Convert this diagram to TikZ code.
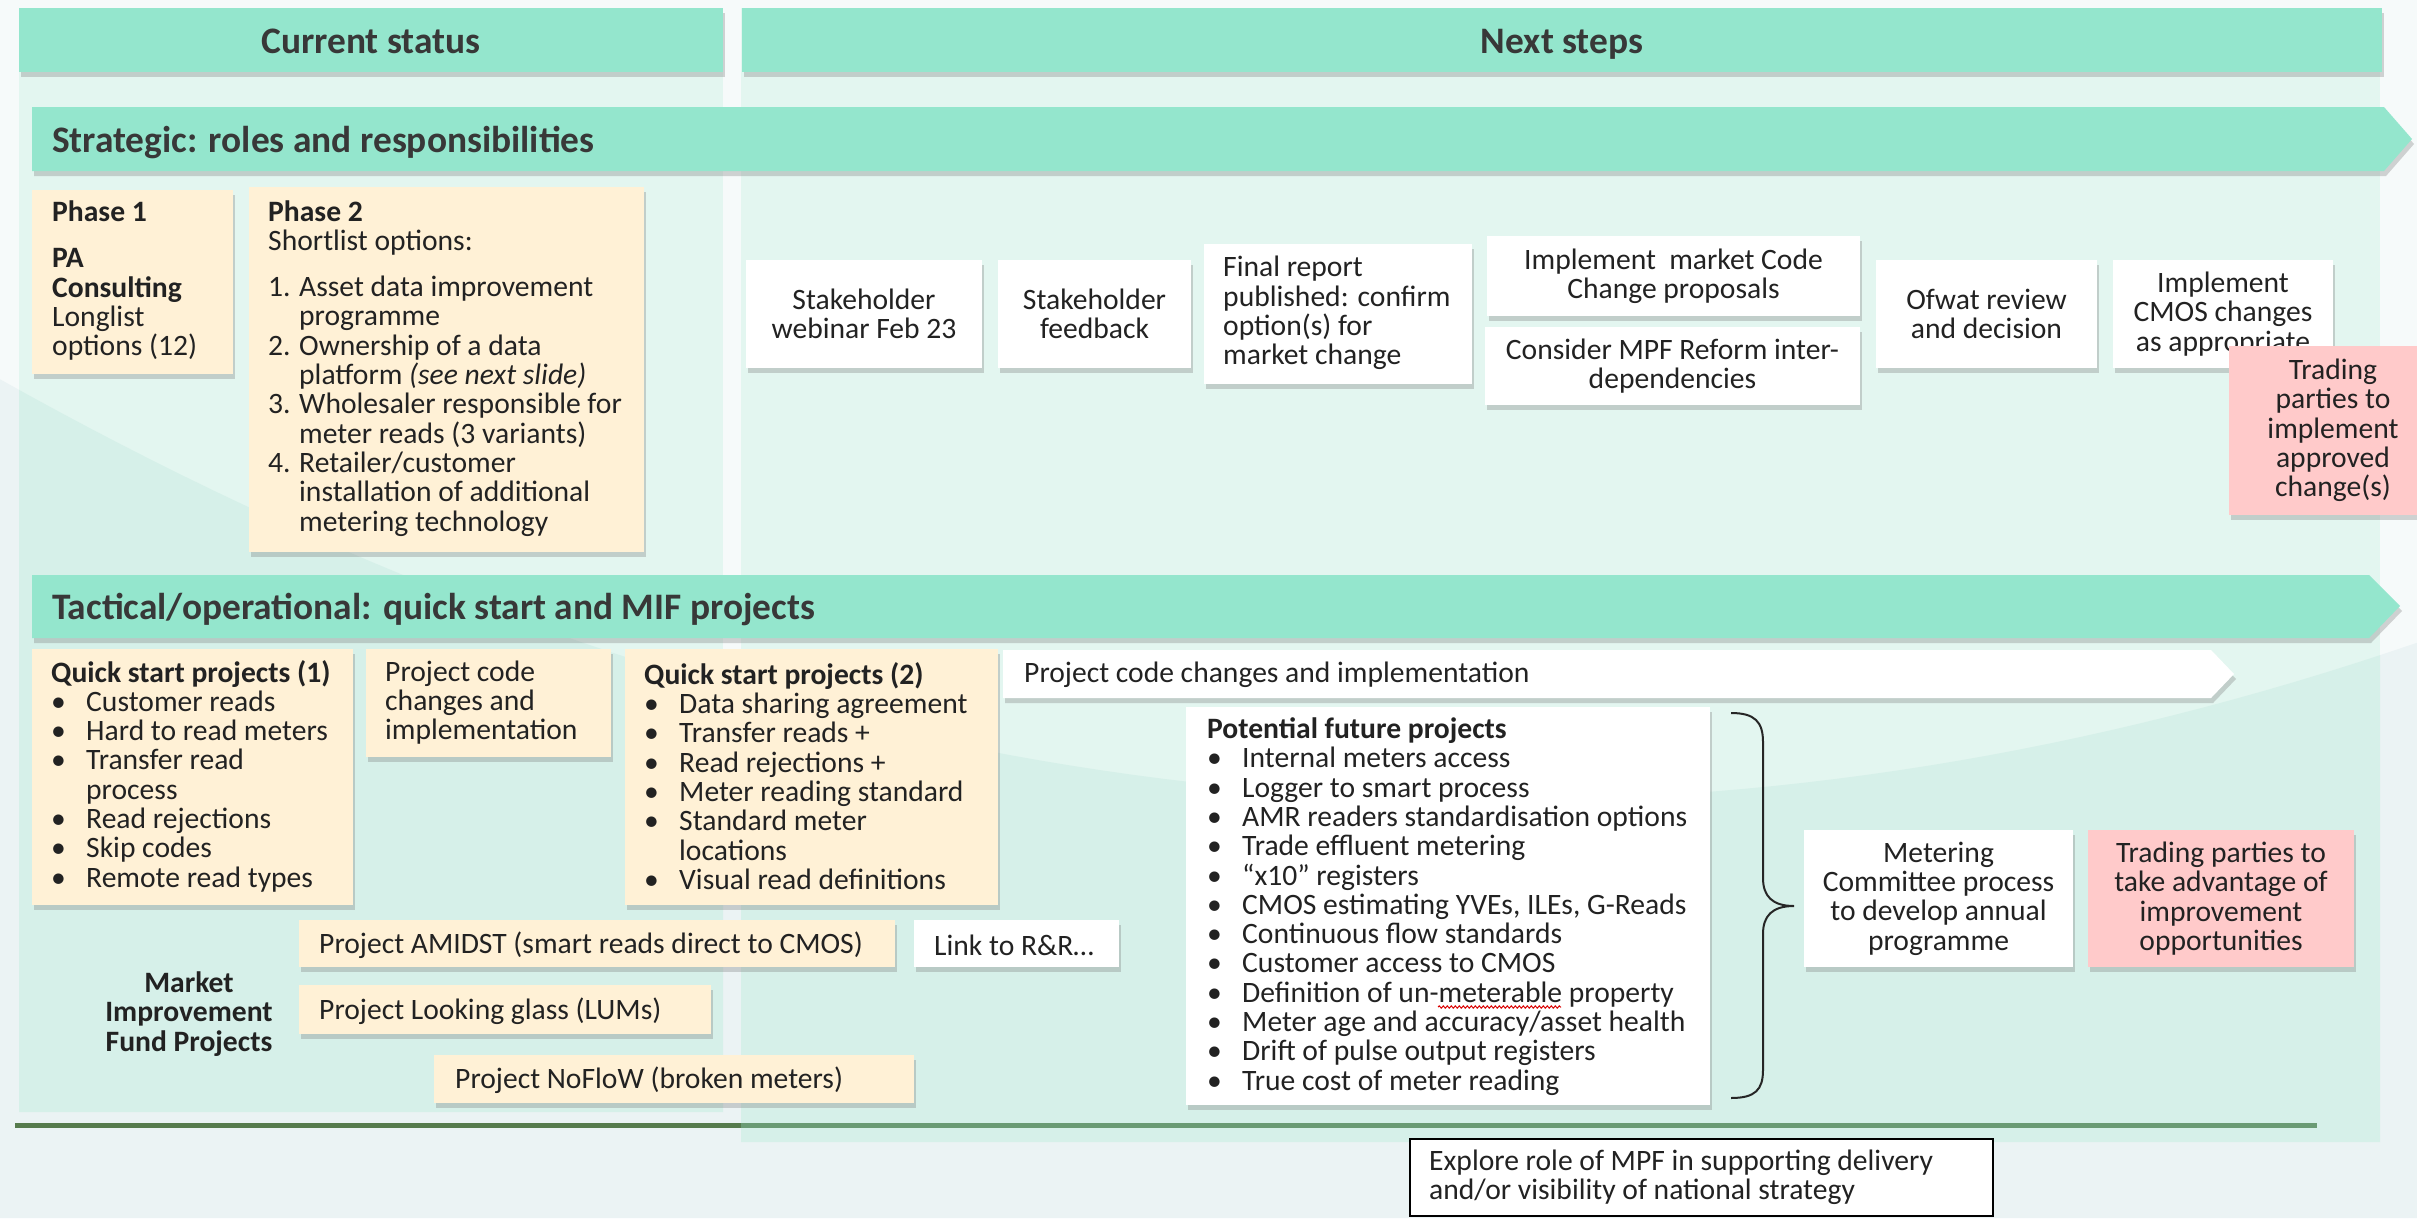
\documentclass[tikz,border=0pt]{standalone}
\usepackage{fontspec}
\setmainfont{Carlito}
\usetikzlibrary{shadows,decorations.pathmorphing}
\definecolor{mint}{HTML}{94E6CD}
\definecolor{cream}{HTML}{FFF1D6}
\definecolor{pinkb}{HTML}{FFCACA}
\definecolor{panelhi}{HTML}{E3F6F0}
\definecolor{panello}{HTML}{D6F0E9}
\definecolor{pagehi}{HTML}{F6FAFA}
\definecolor{pagelo}{HTML}{EBF3F4}
\definecolor{linegreen}{HTML}{567B4D}
\definecolor{linegreenb}{HTML}{6A9B74}
\definecolor{txt}{HTML}{222222}
\definecolor{hdr}{HTML}{383838}
\newcommand{\bodyfont}{\fontsize{29.6}{29.3}\selectfont}
\newcommand{\hdrfont}{\fontsize{37.4}{40}\selectfont\bfseries}
\newcommand{\mybul}{\makebox[35pt][l]{\textbullet}}
\newcommand{\myind}{\hspace*{35pt}}
\newcommand{\mynum}[1]{\makebox[31pt][l]{#1}}
\newcommand{\myindn}{\hspace*{31pt}}
\begin{document}
\begin{tikzpicture}[x=1pt,y=-1pt,
  shad/.style={drop shadow={shadow xshift=2pt,shadow yshift=-5pt,opacity=0.3,fill=black!55}},
  boxbase/.style={rectangle,inner sep=0pt,shad},
  creambox/.style={boxbase,fill=cream},
  whitebox/.style={boxbase,fill=white},
  pinkbox/.style={boxbase,fill=pinkb},
  body/.style={font=\bodyfont,text=txt},
  ctext/.style={body,align=center},
  ltext/.style={body,align=left,inner sep=0pt,anchor=west,yshift=-1.5pt},
  hdr/.style={font=\hdrfont,text=hdr,inner sep=0pt},
  hdrbar/.style={hdr,fill=mint,shad,text height=26.8pt,text depth=0pt},
]
\useasboundingbox (0,0) rectangle (2417,1218);
\clip (0,0) rectangle (2417,1218);
% page background
\fill[pagehi] (0,0) rectangle (2417,1218);
\fill[pagelo] plot[domain=0:2417,samples=80] (\x,{800-187*((\x-1500)/1000)*((\x-1500)/1000)}) -- (2417,1218) -- (0,1218) -- cycle;
% panels
\fill[panelhi] (19,8) rectangle (723,1112);
\fill[panelhi] (741,8) rectangle (2380,1142);
\begin{scope}
  \clip (19,8) rectangle (723,1112) (741,8) rectangle (2380,1142);
  \fill[panello] plot[domain=0:2417,samples=80] (\x,{800-187*((\x-1500)/1000)*((\x-1500)/1000)}) -- (2417,1218) -- (0,1218) -- cycle;
\end{scope}
% separator line
\draw[linegreen,line width=5pt] (15,1125) -- (741,1125);
\draw[linegreenb,line width=5pt] (741,1125) -- (2317,1125);

% column headers
\node[hdrbar,minimum width=704pt,minimum height=64pt] (cur) at (371,40) {Current status};
\node[hdrbar,minimum width=1640pt,minimum height=64pt] (nxt) at (1562,40) {Next steps};

% strategic banner
\fill[mint,shad] (32,107) -- (2384,107) -- (2412,139) -- (2384,171) -- (32,171) -- cycle;
\node[hdr,anchor=west] (strat) at (52,143) {Strategic: roles and responsibilities};

% phase boxes
\node[creambox,minimum width=201pt,minimum height=184pt] (ph1) at (132.5,282) {};
\node[ltext] (ph1t) at (52,279) {\textbf{Phase 1}\\[17.5pt]\textbf{PA}\\\textbf{Consulting}\\Longlist\\options (12)};
\node[creambox,minimum width=395pt,minimum height=365pt] (ph2) at (446.5,369.5) {};
\node[ltext] (ph2t) at (268,367) {\textbf{Phase 2}\\
Shortlist options:\\[16.5pt]
\mynum{1.}Asset data improvement\\
\myindn programme\\
\mynum{2.}Ownership of a data\\
\myindn platform \textit{(see next slide)}\\
\mynum{3.}Wholesaler responsible for\\
\myindn meter reads (3 variants)\\
\mynum{4.}Retailer/customer\\
\myindn installation of additional\\
\myindn metering technology};

% next steps, strategic
\node[whitebox,ctext,minimum width=236pt,minimum height=108pt] (sw) at (864,314) {Stakeholder\\webinar Feb 23};
\node[whitebox,ctext,minimum width=193pt,minimum height=108pt] (sf) at (1094.5,314) {Stakeholder\\feedback};
\node[whitebox,minimum width=268pt,minimum height=140pt] (fr) at (1338,314) {};
\node[ltext] (frt) at (1223,311.5) {Final report\\published: confirm\\option(s) for\\market change};
\node[whitebox,ctext,minimum width=373pt,minimum height=80pt] (imc) at (1673.5,276) {Implement~ market Code\\Change proposals};
\node[whitebox,ctext,minimum width=375pt,minimum height=78pt] (mpf) at (1672.5,366) {Consider MPF Reform inter-\\dependencies};
\node[whitebox,ctext,minimum width=221pt,minimum height=108pt] (ofw) at (1986.5,314) {Ofwat review\\and decision};
\node[whitebox,ctext,minimum width=220pt,minimum height=108pt] (cmos) at (2223,314) {Implement\\CMOS changes\\as appropriate};
\node[pinkbox,ctext,minimum width=208pt,minimum height=169pt] (tp1) at (2333,430.5) {Trading\\parties to\\implement\\approved\\change(s)};

% tactical banner
\fill[mint,shad] (32,575) -- (2369,575) -- (2400,606) -- (2369,638) -- (32,638) -- cycle;
\node[hdr,anchor=west] (tact) at (52,610) {Tactical/operational: quick start and MIF projects};

% quick start boxes
\node[creambox,minimum width=321pt,minimum height=256pt] (qs1) at (192.5,777) {};
\node[ltext] (qs1t) at (51,774.5) {\textbf{Quick start projects (1)}\\
\mybul Customer reads\\
\mybul Hard to read meters\\
\mybul Transfer read\\
\myind process\\
\mybul Read rejections\\
\mybul Skip codes\\
\mybul Remote read types};
\node[creambox,minimum width=245pt,minimum height=108pt] (pcc) at (488.5,703) {};
\node[ltext] (pcct) at (385,701) {Project code\\changes and\\implementation};
\node[creambox,minimum width=373pt,minimum height=256pt] (qs2) at (811.5,777) {};
\node[ltext] (qs2t) at (644,774.5) {\textbf{Quick start projects (2)}\\
\mybul Data sharing agreement\\
\mybul Transfer reads +\\
\mybul Read rejections +\\
\mybul Meter reading standard\\
\mybul Standard meter\\
\myind locations\\
\mybul Visual read definitions};

% white arrow
\fill[white,shad] (1003,650) -- (2211,650) -- (2234,674) -- (2211,698) -- (1003,698) -- cycle;
\node[ltext] (pcarrow) at (1024,673) {Project code changes and implementation};

% potential future projects
\node[whitebox,minimum width=524pt,minimum height=398pt] (pfp) at (1448,906) {};
\node[ltext] (pfpt) at (1207,905) {\textbf{Potential future projects}\\
\mybul Internal meters access\\
\mybul Logger to smart process\\
\mybul AMR readers standardisation options\\
\mybul Trade effluent metering\\
\mybul “x10” registers\\
\mybul CMOS estimating YVEs, ILEs, G-Reads\\
\mybul Continuous flow standards\\
\mybul Customer access to CMOS\\
\mybul Definition of un-meterable property\\
\mybul Meter age and accuracy/asset health\\
\mybul Drift of pulse output registers\\
\mybul True cost of meter reading};
\draw[red!85!black,line width=1pt,decorate,decoration={snake,amplitude=1.1pt,segment length=4pt}] (1438,1007) -- (1561,1007);

% brace
\draw[black!85,line width=2pt] (1731,713) .. controls (1755,713) and (1763,722) .. (1763,742) -- (1763,878) .. controls (1763,896) and (1772,906) .. (1794,906) .. controls (1772,906) and (1763,916) .. (1763,934) -- (1763,1070) .. controls (1763,1090) and (1755,1098) .. (1731,1098);

\node[whitebox,ctext,minimum width=269pt,minimum height=137pt] (mc) at (1938.5,898.5) {Metering\\Committee process\\to develop annual\\programme};
\node[pinkbox,ctext,minimum width=266pt,minimum height=137pt] (tp2) at (2221,898.5) {Trading parties to\\take advantage of\\improvement\\opportunities};

% MIF projects
\node[creambox,minimum width=596pt,minimum height=47pt] (ami) at (597,943.5) {};
\node[ltext] (amit) at (319,943.5) {Project AMIDST (smart reads direct to CMOS)};
\node[whitebox,minimum width=205pt,minimum height=47pt] (link) at (1016.5,943.5) {};
\node[ltext] (linkt) at (934,943.5) {Link to R\&R…};
\node[creambox,minimum width=412pt,minimum height=49pt] (lg) at (505,1009.5) {};
\node[ltext] (lgt) at (319,1009.5) {Project Looking glass (LUMs)};
\node[creambox,minimum width=480pt,minimum height=48pt] (nf) at (674,1079) {};
\node[ltext] (nft) at (455,1079) {Project NoFloW (broken meters)};
\node[body,align=center,font=\bodyfont\bfseries,inner sep=0pt] (mif) at (189,1014) {Market\\Improvement\\Fund Projects};

% explore box
\node[rectangle,draw=black,line width=2pt,fill=white,minimum width=583pt,minimum height=77pt,inner sep=0pt] (exp) at (1701.5,1177.5) {};
\node[ltext] (expt) at (1429,1176) {Explore role of MPF in supporting delivery\\and/or visibility of national strategy};
\end{tikzpicture}
\end{document}
